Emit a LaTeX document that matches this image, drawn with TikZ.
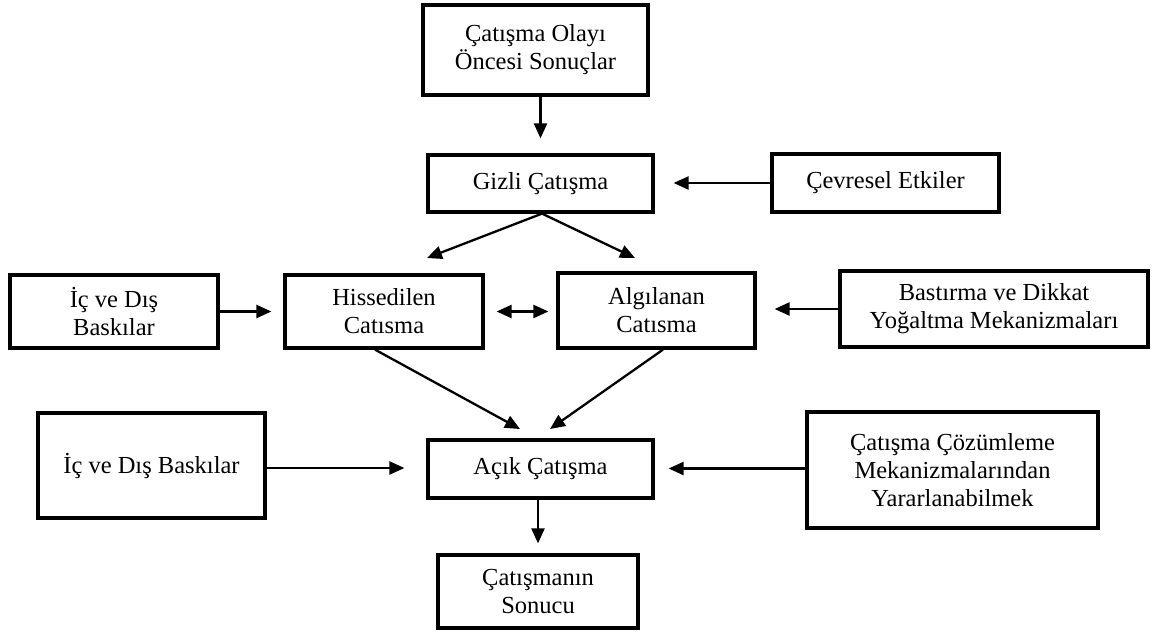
\documentclass[tikz,border=0pt]{standalone}
\usepackage{fontspec}
\setmainfont{Liberation Serif}
\usetikzlibrary{arrows.meta}
\tikzset{
  box/.style={draw, line width=3.2pt, inner sep=0pt, align=center,
    font=\fontsize{24.5}{28}\selectfont},
  arr/.style={line width=2.3pt, -{Triangle[length=15pt,width=13pt]}},
  darr/.style={line width=2.3pt, {Triangle[length=15pt,width=13pt]}-{Triangle[length=15pt,width=13pt]}}
}
\begin{document}
\begin{tikzpicture}[x=1pt,y=-1pt]
\useasboundingbox (0,0) rectangle (1152,635);
% boxes
\node[box, minimum width=225pt, minimum height=90pt] (pre) at (535.5,50) {Çatışma Olayı\\Öncesi Sonuçlar};
\node[box, minimum width=225pt, minimum height=57pt] (gizli) at (540.5,183.5) {Gizli Çatışma};
\node[box, minimum width=227pt, minimum height=58pt] (cevre) at (885.5,183) {Çevresel Etkiler};
\node[box, minimum width=208pt, minimum height=73pt] (ic1) at (114,311.5) {İç ve Dış\\Baskılar};
\node[box, minimum width=198pt, minimum height=73pt] (his) at (384,311.5) {Hissedilen\\Catısma};
\node[box, minimum width=197pt, minimum height=75pt] (alg) at (656.5,310.5) {Algılanan\\Catısma};
\node[box, minimum width=308pt, minimum height=76pt] (bas) at (994,309) {Bastırma ve Dikkat\\Yoğaltma Mekanizmaları};
\node[box, minimum width=227pt, minimum height=105pt] (ic2) at (151.5,465.5) {İç ve Dış Baskılar};
\node[box, minimum width=225pt, minimum height=58pt] (acik) at (540.5,469) {Açık Çatışma};
\node[box, minimum width=291pt, minimum height=116pt] (coz) at (952.5,470) {Çatışma Çözümleme\\Mekanizmalarından\\Yararlanabilmek};
\node[box, minimum width=200pt, minimum height=73pt] (son) at (538,591.5) {Çatışmanın\\Sonucu};
% free arrow ends
\coordinate (tGH) at (427,258);
\coordinate (tGA) at (635,258);
\coordinate (tHA) at (520,429);
\coordinate (tAA) at (550,429);
% connectors
\draw[arr, shorten >=15pt] (gizli.north |- pre.south) -- (gizli.north);
\draw[arr, shorten >=19pt] (cevre.west) -- (gizli.east |- cevre.west);
\draw[arr] ([xshift=1.5pt]gizli.south) -- (tGH);
\draw[arr] ([xshift=1.5pt]gizli.south) -- (tGA);
\draw[arr, shorten >=12pt] (ic1.east) -- (his.west);
\draw[darr, shorten <=12pt, shorten >=8pt] (his.east) -- (his.east -| alg.west);
\draw[arr, shorten >=18pt] (bas.west) -- (alg.east |- bas.west);
\draw[arr] ([xshift=-9pt]his.south) -- (tHA);
\draw[arr] ([xshift=6.5pt]alg.south) -- (tAA);
\draw[arr, shorten >=22pt] ([yshift=-2.5pt]ic2.east) -- ([yshift=-2.5pt]ic2.east -| acik.west);
\draw[arr, shorten >=14pt] ([yshift=1.5pt]coz.west) -- ([yshift=1.5pt]coz.west -| acik.east);
\draw[arr, shorten >=10pt] (son.north |- acik.south) -- (son.north);
\end{tikzpicture}
\end{document}
